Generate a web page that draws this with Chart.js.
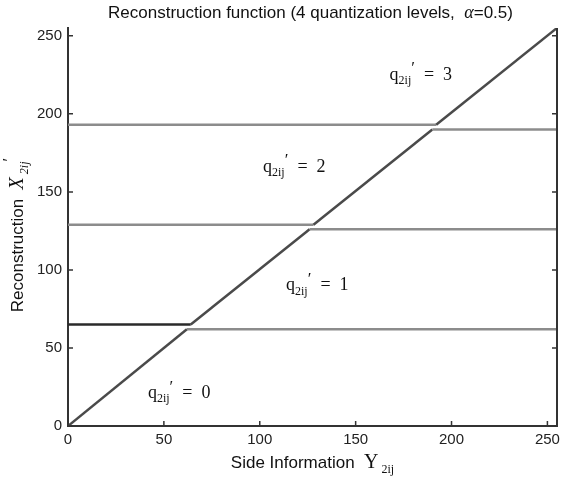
<!DOCTYPE html>
<html>
<head>
<meta charset="utf-8">
<script src="https://cdn.jsdelivr.net/npm/chart.js@4"></script>
<style>
  html, body { margin: 0; background: #fff; }
</style>
</head>
<body>
<canvas id="chart" width="566" height="479"></canvas>
<script>
// reconstruction curves, one per quantization index
const q0X = [0, 62, 255];
const q0Y = [0, 62, 62];
const q1X = [0, 64, 126, 255];
const q1Y = [65, 65, 126, 126];
const q2X = [0, 128, 190, 255];
const q2Y = [129, 129, 190, 190];
const q3X = [0, 192, 255];
const q3Y = [193, 193, 255];

const tickValues = [0, 50, 100, 150, 200, 250];
const levelNames = ['0', '1', '2', '3'];
// where each q label sits, in data units
const labelX = [58, 130, 118, 184];
const labelY = [21, 90, 166, 225];

const SANS = '"Liberation Sans", Arial, sans-serif';
const SERIF = '"Liberation Serif", "DejaVu Serif", serif';
const DIAG = '#4a4a4a';
const FLAT = '#8c8c8c';

function toPoints(xs, ys) {
    return xs.map((v, i) => ({ x: v, y: ys[i] }));
}

function curve(xs, ys, firstFlatColor) {
    return {
        data: toPoints(xs, ys),
        borderWidth: 2.5,
        pointRadius: 0,
        tension: 0,
        segment: {
            borderColor: c => {
                if (c.p0.parsed.y !== c.p1.parsed.y) return DIAG;
                if (firstFlatColor && c.p0DataIndex === 0) return firstFlatColor;
                return FLAT;
            }
        }
    };
}

// draws a row of text runs (mixed fonts, sub/superscripts) centred on cx, cy
function drawRuns(ctx, runs, cx, cy, rotate) {
    ctx.save();
    ctx.translate(cx, cy);
    if (rotate) ctx.rotate(-Math.PI / 2);
    ctx.textBaseline = 'middle';
    ctx.textAlign = 'left';
    let w = 0;
    runs.forEach(r => { ctx.font = r.font; w += ctx.measureText(r.text).width; });
    let x = -w / 2;
    runs.forEach(r => {
        ctx.font = r.font;
        ctx.fillStyle = '#111';
        ctx.fillText(r.text, x, r.dy || 0);
        x += ctx.measureText(r.text).width;
    });
    ctx.restore();
}

const overlay = {
    id: 'overlay',
    afterDraw(chart) {
        const { ctx, chartArea: a, scales: { x, y } } = chart;
        ctx.save();
        ctx.strokeStyle = '#333';
        ctx.lineWidth = 2;
        ctx.beginPath();
        ctx.moveTo(a.right, a.top);
        ctx.lineTo(a.right, a.bottom + 1);
        ctx.stroke();

        // inward tick marks
        ctx.lineWidth = 1.5;
        ctx.beginPath();
        tickValues.forEach(v => {
            const px = x.getPixelForValue(v);
            const py = y.getPixelForValue(v);
            ctx.moveTo(px, a.bottom);
            ctx.lineTo(px, a.bottom - 5);
            ctx.moveTo(a.left, py);
            ctx.lineTo(a.left + 5, py);
            ctx.moveTo(a.right, py);
            ctx.lineTo(a.right - 5, py);
        });
        ctx.stroke();
        ctx.restore();

        // title
        drawRuns(ctx, [
            { text: 'Reconstruction function (4 quantization levels,  ', font: '17px ' + SANS },
            { text: 'α', font: 'italic 18px ' + SERIF },
            { text: '=0.5)', font: '17px ' + SANS }
        ], (a.left + a.right) / 2 - 2, 13);

        // axis titles
        drawRuns(ctx, [
            { text: 'Side Information  ', font: '17px ' + SANS },
            { text: 'Y', font: '20px ' + SERIF },
            { text: ' 2ij', font: '12px ' + SERIF, dy: 7 }
        ], (a.left + a.right) / 2, 463);

        drawRuns(ctx, [
            { text: 'Reconstruction  ', font: '17px ' + SANS },
            { text: 'X', font: 'italic 20px ' + SERIF },
            { text: ' 2ij', font: 'italic 12px ' + SERIF, dy: 7 },
            { text: '′', font: '17px ' + SERIF, dy: -8 }
        ], 18, (a.top + a.bottom) / 2 + 8, true);

        // q labels
        levelNames.forEach((name, i) => {
            drawRuns(ctx, [
                { text: 'q', font: '18px ' + SERIF },
                { text: '2ij', font: '12px ' + SERIF, dy: 6 },
                { text: '′', font: '17px ' + SERIF, dy: -6 },
                { text: '\u2002=\u2002' + name, font: '18px ' + SERIF }
            ], x.getPixelForValue(labelX[i]), y.getPixelForValue(labelY[i]));
        });
    }
};

function axis(fitSize, isX) {
    return {
        type: 'linear',
        min: 0,
        max: 255,
        grid: { display: false, drawTicks: false },
        border: { display: true, color: '#333', width: 2 },
        ticks: {
            color: '#222',
            font: { family: SANS, size: 15 },
            padding: isX ? 5 : 6,
            maxRotation: 0
        },
        afterBuildTicks: s => { s.ticks = tickValues.map(v => ({ value: v })); },
        afterFit: s => { if (isX) s.height = fitSize; else s.width = fitSize; }
    };
}

new Chart(document.getElementById('chart').getContext('2d'), {
    type: 'line',
    data: {
        datasets: [
            curve(q0X, q0Y),
            curve(q1X, q1Y, '#2a2a2a'),
            curve(q2X, q2Y),
            curve(q3X, q3Y)
        ]
    },
    options: {
        responsive: false,
        animation: false,
        layout: { padding: { top: 28, right: 9, left: 0, bottom: 0 } },
        plugins: { legend: { display: false }, tooltip: { enabled: false } },
        scales: {
            x: axis(53, true),
            y: axis(68, false)
        }
    },
    plugins: [overlay]
});
</script>
</body>
</html>
